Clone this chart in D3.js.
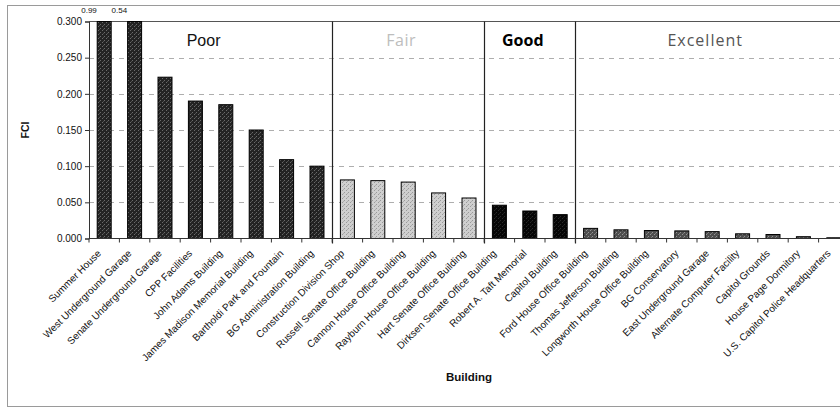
<!DOCTYPE html>
<html><head><meta charset="utf-8">
<script src="https://cdn.jsdelivr.net/npm/d3@7"></script>
<style>body{margin:0;background:#fff}svg{display:block}</style>
</head><body>
<svg id="c" width="840" height="408"></svg>
<script>
const buildings = ["Summer House","West Underground Garage","Senate Underground Garage","CPP Facilities","John Adams Building","James Madison Memorial Building","Bartholdi Park and Fountain","BG Administration Building","Construction Division Shop","Russell Senate Office Building","Cannon House Office Building","Rayburn House Office Building","Hart Senate Office Building","Dirksen Senate Office Building","Robert A. Taft Memorial","Capitol Building","Ford House Office Building","Thomas Jefferson Building","Longworth House Office Building","BG Conservatory","East Underground Garage","Alternate Computer Facility","Capitol Grounds","House Page Dormitory","U.S. Capitol Police Headquarters"];
const fci = [0.99,0.54,0.223,0.190,0.185,0.150,0.109,0.100,0.081,0.080,0.078,0.063,0.056,0.046,0.038,0.033,0.014,0.012,0.011,0.0105,0.0095,0.0065,0.0055,0.0025,0.001];
const ratings = ["Poor","Fair","Good","Excellent"];
const ratingCounts = [8,5,3,9];
const yTicks = [0,0.05,0.1,0.15,0.2,0.25,0.3];
const yMax = 0.3;

const patternColors = {Poor:["#232323","#6a6a6a"],Fair:["#cfcfcf","#9a9a9a"],Good:["#060606","#2a2a2a"],Excellent:["#4e4e4e","#959595"]};
const labelStyle = {
  Poor:{fill:"#111",font:"Liberation Sans, Arial, sans-serif",weight:"normal",ls:0},
  Fair:{fill:"#bdbdbd",font:"Open Sans, sans-serif",weight:"normal",ls:0.5},
  Good:{fill:"#000",font:"Open Sans, sans-serif",weight:"bold",ls:0},
  Excellent:{fill:"#555",font:"Open Sans, sans-serif",weight:"normal",ls:1}
};

const ratingOf = [];
ratings.forEach((r,i)=>{for(let k=0;k<ratingCounts[i];k++) ratingOf.push(r);});

const svg = d3.select("#c");
const m = {left:89, top:21.5, right:849, bottom:238.5};

// stipple patterns
const defs = svg.append("defs");
ratings.forEach(r=>{
  const [bg,dot] = patternColors[r];
  const p = defs.append("pattern").attr("id","pat-"+r).attr("patternUnits","userSpaceOnUse")
    .attr("width",4).attr("height",4);
  p.append("rect").attr("width",4).attr("height",4).attr("fill",bg);
  p.append("rect").attr("x",0).attr("y",0).attr("width",1).attr("height",1).attr("fill",dot);
  p.append("rect").attr("x",2).attr("y",2).attr("width",1).attr("height",1).attr("fill",dot);
  p.append("rect").attr("x",3).attr("y",1).attr("width",1).attr("height",1).attr("fill",dot).attr("opacity",0.6);
});

// outer border
svg.append("rect").attr("x",7.5).attr("y",5.5).attr("width",850).attr("height",401)
  .attr("fill","none").attr("stroke","#9a9a9a").attr("stroke-width",1);

const x = d3.scaleBand().domain(buildings).range([m.left,m.right]).paddingInner(0.54).paddingOuter(0.27);
const y = d3.scaleLinear().domain([0,yMax]).range([m.bottom,m.top]);
const step = x.step();
const bandStart = i => m.left + i*step;

// gridlines
svg.append("g").selectAll("line").data(yTicks.filter(t=>t>0 && t<yMax)).join("line")
  .attr("x1",m.left).attr("x2",840).attr("y1",d=>Math.round(y(d))+0.5).attr("y2",d=>Math.round(y(d))+0.5)
  .attr("stroke","#999").attr("stroke-width",0.8).attr("stroke-dasharray","5,5");
svg.append("line").attr("x1",m.left).attr("x2",840).attr("y1",y(yMax)).attr("y2",y(yMax))
  .attr("stroke","#555").attr("stroke-width",1);

// bars
svg.append("g").selectAll("rect").data(buildings).join("rect")
  .attr("x",d=>x(d)).attr("width",x.bandwidth())
  .attr("y",(d,i)=>y(Math.min(fci[i],yMax)))
  .attr("height",(d,i)=>y(0)-y(Math.min(fci[i],yMax)))
  .attr("fill",(d,i)=>`url(#pat-${ratingOf[i]})`)
  .attr("stroke","#000").attr("stroke-width",1);

// clipped values
svg.append("g").selectAll("text").data(buildings.filter((d,i)=>fci[i]>yMax)).join("text")
  .attr("x",d=>bandStart(buildings.indexOf(d))).attr("y",13)
  .attr("text-anchor","middle").attr("font-family","Liberation Sans, Arial, sans-serif")
  .attr("font-size",8).attr("fill","#111")
  .text(d=>fci[buildings.indexOf(d)].toFixed(2));

// dividers and section labels
let start = 0;
ratings.forEach((r,i)=>{
  const end = start + ratingCounts[i];
  const xs = bandStart(start), xe = bandStart(end);
  if (i<ratings.length-1) {
    svg.append("line").attr("x1",Math.round(xe)+0.5).attr("x2",Math.round(xe)+0.5)
      .attr("y1",y(yMax)).attr("y2",y(0)+5).attr("stroke","#222").attr("stroke-width",1.2);
  }
  const st = labelStyle[r];
  svg.append("text").attr("x",(xs+xe)/2-7).attr("y",46).attr("text-anchor","middle")
    .attr("font-family",st.font).attr("font-weight",st.weight).attr("font-size",16)
    .attr("letter-spacing",st.ls).attr("fill",st.fill).text(r);
  start = end;
});

// y axis
const yAxis = d3.axisLeft(y).tickValues(yTicks).tickFormat(d3.format(".3f")).tickSize(4).tickPadding(3);
const gy = svg.append("g").attr("transform",`translate(${m.left},0)`).call(yAxis);
gy.select(".domain").attr("stroke","#333");
gy.selectAll(".tick line").attr("stroke","#333");
gy.selectAll("text").attr("font-family","Liberation Sans, Arial, sans-serif").attr("font-size",10).attr("fill","#111");

// x axis
const gx = svg.append("g").attr("transform",`translate(0,${m.bottom})`);
gx.append("line").attr("x1",m.left).attr("x2",840).attr("stroke","#333");
gx.selectAll("line.tk").data(d3.range(buildings.length+1)).join("line").attr("class","tk")
  .attr("x1",i=>bandStart(i)).attr("x2",i=>bandStart(i)).attr("y1",0).attr("y2",4).attr("stroke","#333");
gx.selectAll("text").data(buildings).join("text")
  .attr("transform",d=>`translate(${x(d)+x.bandwidth()/2-5},${13}) rotate(-45)`)
  .attr("text-anchor","end").attr("dy","0.35em")
  .attr("font-family","Liberation Sans, Arial, sans-serif").attr("font-size",10).attr("fill","#111")
  .text(d=>d);

// axis titles
svg.append("text").attr("transform",`translate(29,130) rotate(-90)`).attr("text-anchor","middle")
  .attr("font-family","Liberation Sans, Arial, sans-serif").attr("font-weight","bold").attr("font-size",10.5)
  .attr("fill","#111").text("FCI");
svg.append("text").attr("x",(m.left+m.right)/2).attr("y",381).attr("text-anchor","middle")
  .attr("font-family","Liberation Sans, Arial, sans-serif").attr("font-weight","bold").attr("font-size",11.5)
  .attr("fill","#111").text("Building");
</script>
</body></html>
